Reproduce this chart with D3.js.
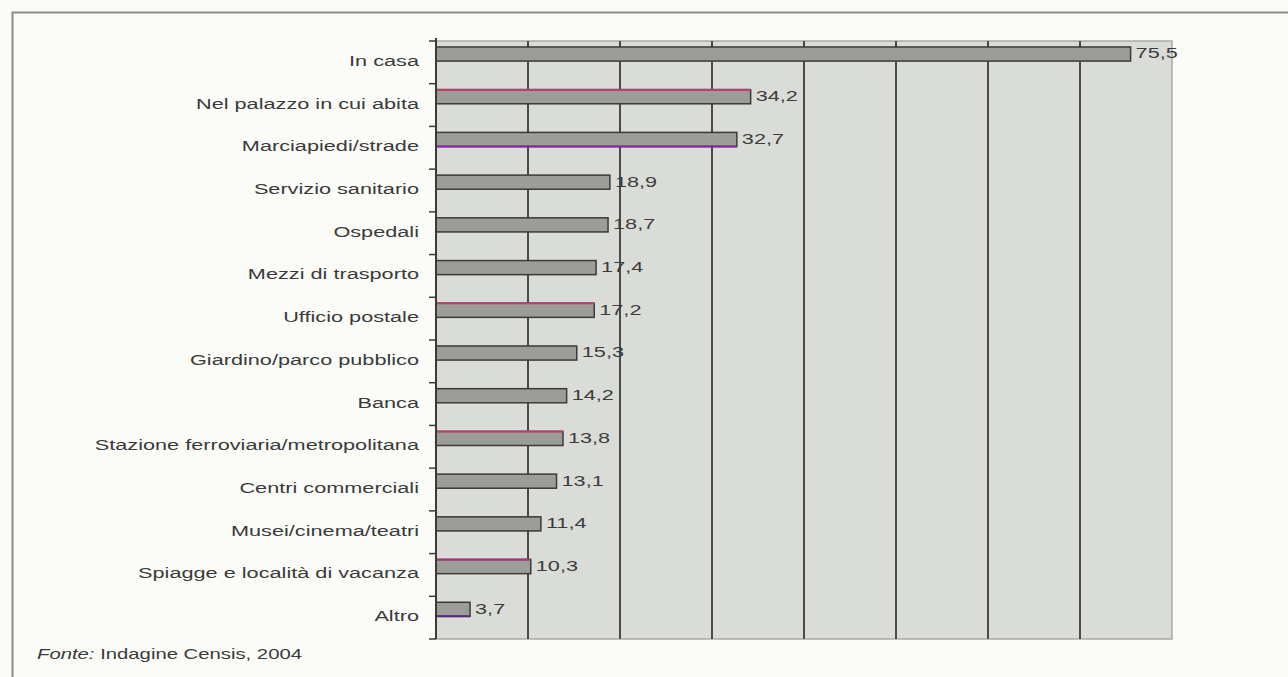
<!DOCTYPE html>
<html>
<head>
<meta charset="utf-8">
<script src="https://cdn.jsdelivr.net/npm/d3@7"></script>
<style>
  body { margin: 0; background: #fbfcf8; }
  svg { display: block; font-family: "Liberation Sans", Arial, sans-serif; }
</style>
</head>
<body>
<div id="chart"></div>
<script>

var categories = ["In casa", "Nel palazzo in cui abita", "Marciapiedi/strade", "Servizio sanitario",
    "Ospedali", "Mezzi di trasporto", "Ufficio postale", "Giardino/parco pubblico", "Banca",
    "Stazione ferroviaria/metropolitana", "Centri commerciali", "Musei/cinema/teatri",
    "Spiagge e località di vacanza", "Altro"];
var values = [75.5, 34.2, 32.7, 18.9, 18.7, 17.4, 17.2, 15.3, 14.2, 13.8, 13.1, 11.4, 10.3, 3.7];
var xTicks = [0, 10, 20, 30, 40, 50, 60, 70, 80];

// scanned-in colour fringes on some bars
var topEdge = {"Nel palazzo in cui abita": "#c23a6e", "Ufficio postale": "#c23a6e",
    "Stazione ferroviaria/metropolitana": "#c23a6e", "Spiagge e località di vacanza": "#b0307a"};
var bottomEdge = {"Marciapiedi/strade": "#8a1fb0", "Altro": "#5a2a80"};

var W = 1288, H = 677;
var margin = {top: 41, right: 116, bottom: 38, left: 436},
    width = W - margin.left - margin.right,
    height = H - margin.top - margin.bottom;
var stretch = 1.4; // the original type is set wide

var svg = d3.select("#chart").append("svg")
    .attr("width", W)
    .attr("height", H);

// outer frame (runs off the picture right and bottom)
svg.append("path")
    .attr("d", "M12.5," + (H + 5) + " V12.5 H" + (W + 5))
    .attr("fill", "none")
    .attr("stroke", "#8a8c88")
    .attr("stroke-width", 2);

var g = svg.append("g")
    .attr("transform", "translate(" + margin.left + "," + margin.top + ")");

var x = d3.scaleLinear()
    .domain([0, 80])
    .range([0, width]);

var y = d3.scaleBand()
    .domain(categories)
    .range([0, height]);

// plot background
g.append("rect")
    .attr("width", width)
    .attr("height", height)
    .attr("fill", "#dadcd8")
    .attr("stroke", "#a8aaa6")
    .attr("stroke-width", 1.5);

// vertical grid
g.selectAll(".grid")
    .data(xTicks.slice(1, -1))
    .enter().append("line")
    .attr("x1", function(d) { return x(d); })
    .attr("x2", function(d) { return x(d); })
    .attr("y1", 0)
    .attr("y2", height)
    .attr("stroke", "#4a4b48")
    .attr("stroke-width", 2);

// bars
var bTop = y.bandwidth() * 0.14, bh = y.bandwidth() * 0.33;
g.selectAll(".bar")
    .data(categories)
    .enter().append("rect")
    .attr("x", 0)
    .attr("y", function(d) { return y(d) + bTop; })
    .attr("width", function(d, i) { return x(values[i]); })
    .attr("height", bh)
    .attr("fill", "#9c9d99")
    .attr("stroke", "#3a3b38")
    .attr("stroke-width", 1.5);

g.selectAll(".edgeTop")
    .data(categories.filter(function(d) { return topEdge[d]; }))
    .enter().append("line")
    .attr("x1", 0)
    .attr("x2", function(d) { return x(values[categories.indexOf(d)]); })
    .attr("y1", function(d) { return y(d) + bTop; })
    .attr("y2", function(d) { return y(d) + bTop; })
    .attr("stroke", function(d) { return topEdge[d]; })
    .attr("stroke-width", 2);

g.selectAll(".edgeBottom")
    .data(categories.filter(function(d) { return bottomEdge[d]; }))
    .enter().append("line")
    .attr("x1", 0)
    .attr("x2", function(d) { return x(values[categories.indexOf(d)]); })
    .attr("y1", function(d) { return y(d) + bTop + bh; })
    .attr("y2", function(d) { return y(d) + bTop + bh; })
    .attr("stroke", function(d) { return bottomEdge[d]; })
    .attr("stroke-width", 2);

// value labels
g.selectAll(".val")
    .data(categories)
    .enter().append("text")
    .attr("transform", function(d, i) {
        return "translate(" + (x(values[i]) + 5) + "," + (y(d) + bTop + bh / 2 - 1) + ") scale(" + stretch + ",1)";
    })
    .attr("dy", "0.35em")
    .attr("font-size", 15.5)
    .attr("fill", "#3c3c3c")
    .text(function(d, i) { return d3.format(".1f")(values[i]).replace(".", ","); });

// y axis with ticks at band edges
var yAxis = g.append("g").attr("class", "y axis");
yAxis.append("line")
    .attr("x1", 0).attr("x2", 0)
    .attr("y1", -3).attr("y2", height)
    .attr("stroke", "#3a3b38")
    .attr("stroke-width", 2);
yAxis.selectAll(".tk")
    .data(categories.concat(["end"]))
    .enter().append("line")
    .attr("x1", -7).attr("x2", 0)
    .attr("y1", function(d, i) { return i * y.step(); })
    .attr("y2", function(d, i) { return i * y.step(); })
    .attr("stroke", "#3a3b38")
    .attr("stroke-width", 1.5);
yAxis.selectAll(".lab")
    .data(categories)
    .enter().append("text")
    .attr("transform", function(d) {
        return "translate(-17," + (y(d) + y.bandwidth() / 2 - 2) + ") scale(" + stretch + ",1)";
    })
    .attr("dy", "0.35em")
    .attr("text-anchor", "end")
    .attr("font-size", 15.5)
    .attr("fill", "#3a3a3a")
    .text(function(d) { return d; });

// source
var src = svg.append("text")
    .attr("transform", "translate(37,659) scale(1.45,1)")
    .attr("font-size", 14)
    .attr("fill", "#3a3a3a");
src.append("tspan").attr("font-style", "italic").text("Fonte:");
src.append("tspan").text(" Indagine Censis, 2004");

</script>
</body>
</html>
